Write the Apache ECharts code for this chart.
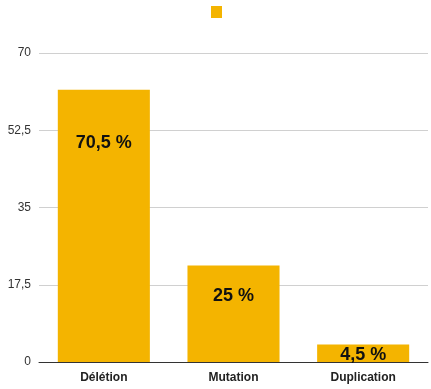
<!DOCTYPE html>
<html>
<head>
<meta charset="utf-8">
<script src="https://cdn.jsdelivr.net/npm/echarts@6/dist/echarts.min.js"></script>
<style>
  html, body { margin: 0; padding: 0; background: #fff; }
  #chart { width: 431px; height: 389px; }
</style>
</head>
<body>
<div id="chart"></div>
<script>
// Share of each mutation type (%)
const categories = ['Délétion', 'Mutation', 'Duplication'];
const values = [70.5, 25, 4.5];
// Value-axis tick labels, one per gridline from the bottom up
const tickLabels = ['0', '17,5', '35', '52,5', '70'];

// Vertical position of each value label, measured down from the bar top (px)
const labelOffsets = [53, 31, 10];

const axisMax = 80;
const axisStep = 20;

const chart = echarts.init(document.getElementById('chart'), null, { renderer: 'canvas' });

const fmtPct = v => String(v).replace('.', ',') + ' %';

chart.setOption({
  animation: false,
  backgroundColor: '#ffffff',
  legend: {
    data: ['Part'],
    left: 211,
    top: 6,
    padding: 0,
    icon: 'rect',
    itemWidth: 11,
    itemHeight: 12,
    formatter: () => '',
    selectedMode: false
  },
  grid: { left: 39, right: 3, top: 53, bottom: 27, containLabel: false },
  xAxis: {
    type: 'category',
    data: categories,
    axisLine: { lineStyle: { color: '#333', width: 1 } },
    axisTick: { show: false },
    axisLabel: {
      color: '#222',
      fontFamily: 'Liberation Sans, Arial, sans-serif',
      fontWeight: 'bold',
      fontSize: 12,
      margin: 10
    }
  },
  yAxis: {
    type: 'value',
    min: 0,
    max: axisMax,
    interval: axisStep,
    axisLine: { show: false },
    axisTick: { show: false },
    splitLine: { lineStyle: { color: '#d0d0d0', width: 1 } },
    axisLabel: {
      color: '#333',
      fontFamily: 'Liberation Sans, Arial, sans-serif',
      fontSize: 12,
      margin: 8,
      formatter: v => tickLabels[Math.round(v / axisStep)] ?? ''
    }
  },
  series: [{
    name: 'Part',
    type: 'bar',
    barCategoryGap: '29%',
    itemStyle: { color: '#F4B400' },
    data: values.map((v, i) => ({
      value: v,
      label: {
        show: true,
        position: ['50%', labelOffsets[i]],
        align: 'center',
        verticalAlign: 'middle',
        formatter: p => fmtPct(p.value),
        color: '#111',
        fontFamily: '"Liberation Sans", Arial, sans-serif',
        fontWeight: 'bold',
        fontSize: 18
      }
    }))
  }]
});
</script>
</body>
</html>
